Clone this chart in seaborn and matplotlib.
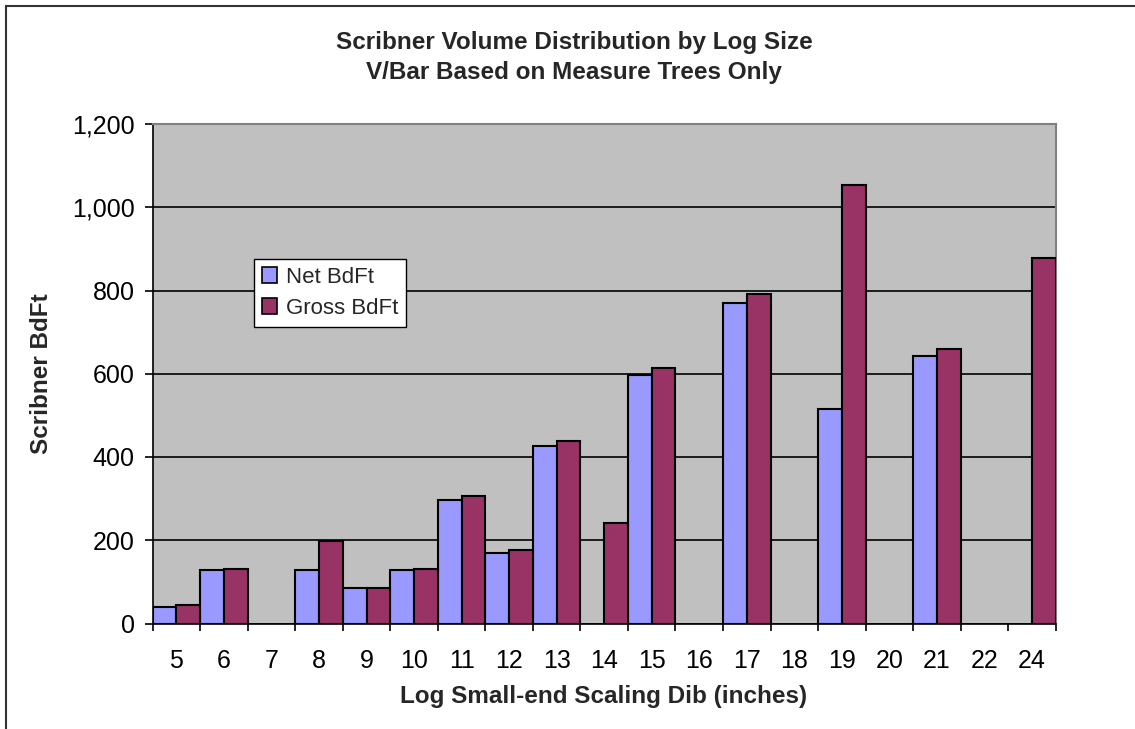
import numpy as np
import pandas as pd
import matplotlib
matplotlib.use("Agg")
import matplotlib.pyplot as plt
import seaborn as sns
from matplotlib.patches import Rectangle, Patch
from matplotlib.ticker import FixedLocator, FuncFormatter, NullFormatter

nan = np.nan

# Log small-end scaling diameter classes (inches)
dib_classes = ["5", "6", "7", "8", "9", "10", "11", "12", "13", "14",
               "15", "16", "17", "18", "19", "20", "21", "22", "24"]
net_bdft = [40, 128, nan, 128, 86, 128, 297, 170, 426, nan,
            597, nan, 771, nan, 515, nan, 642, nan, nan]
gross_bdft = [44, 131, nan, 198, 86, 131, 306, 176, 438, 242,
              615, nan, 792, nan, 1054, nan, 660, nan, 879]
series_names = ["Net BdFt", "Gross BdFt"]
series_colors = ["#9999FF", "#993366"]

df = pd.DataFrame({
    "Dib": dib_classes * 2,
    "BdFt": net_bdft + gross_bdft,
    "Series": [series_names[0]] * len(dib_classes) + [series_names[1]] * len(dib_classes),
})

sns.set_theme(style="white")
plt.rcParams["font.family"] = ["Liberation Sans", "DejaVu Sans"]

W, H = 1135, 729
fig = plt.figure(figsize=(W / 100, H / 100), dpi=100)
ax = fig.add_axes([152.7 / W, 1 - 623.5 / H, 903 / W, 499.5 / H])
ax.set_facecolor("#C0C0C0")

sns.barplot(data=df, x="Dib", y="BdFt", hue="Series", order=dib_classes,
            hue_order=series_names, palette=series_colors, width=1.0, gap=0,
            edgecolor="black", linewidth=1.5, saturation=1, errorbar=None,
            legend=False, ax=ax, zorder=3)

n = len(dib_classes)
ax.set_xlim(-0.5, n - 0.5)
ax.set_ylim(0, 1200)

# horizontal gridlines
ax.set_yticks(np.arange(0, 1201, 200))
ax.yaxis.set_major_formatter(FuncFormatter(lambda v, p: f"{int(v):,}"))
ax.grid(axis="y", color="black", linewidth=1.2, zorder=1)
ax.set_axisbelow(True)

# category labels centred, tick marks at category boundaries
ax.xaxis.set_major_locator(FixedLocator(np.arange(n)))
ax.xaxis.set_minor_locator(FixedLocator(np.arange(n + 1) - 0.5))
ax.xaxis.set_minor_formatter(NullFormatter())
ax.tick_params(axis="x", which="major", length=0, pad=18, labelsize=18, colors="black")
ax.tick_params(axis="x", which="minor", bottom=True, length=5, width=1.2, color="black")
ax.tick_params(axis="y", which="major", left=True, length=6, width=1.2, pad=7,
               labelsize=18, color="black", labelcolor="black")

for side in ["left", "bottom"]:
    ax.spines[side].set_color("black")
    ax.spines[side].set_linewidth(1.2)
for side in ["top", "right"]:
    ax.spines[side].set_color("#808080")
    ax.spines[side].set_linewidth(1.5)

ax.set_xlabel("")
ax.set_ylabel("")

fig.text(604 / W, 1 - 697 / H, "Log Small-end Scaling Dib (inches)", ha="center",
         va="center", fontsize=17.5, fontweight="bold")
fig.text(42 / W, 1 - 374 / H, "Scribner BdFt", ha="center", va="center",
         rotation=90, fontsize=17.5, fontweight="bold")
fig.text(574 / W, 1 - 42 / H, "Scribner Volume Distribution by Log Size", ha="center",
         va="center", fontsize=17.5, fontweight="bold")
fig.text(574 / W, 1 - 73 / H, "V/Bar Based on Measure Trees Only", ha="center",
         va="center", fontsize=17.5, fontweight="bold")

handles = [Patch(facecolor=c, edgecolor="black", linewidth=1.2) for c in series_colors]
leg = ax.legend(handles, series_names, loc="upper left",
                bbox_to_anchor=((254 - 152.7) / 903, (623.5 - 259) / 499.5),
                fontsize=16, frameon=True, fancybox=False, framealpha=1,
                edgecolor="black", borderpad=0.35, labelspacing=0.45,
                handlelength=0.7, handleheight=0.7, handletextpad=0.4,
                borderaxespad=0)
leg.get_frame().set_linewidth(1.0)

# chart area border
fig.patches.append(Rectangle((6 / W, -0.1), 1.2, 1.1 - 6 / H, transform=fig.transFigure,
                             fill=False, edgecolor="#333333", linewidth=1.5))

fig.savefig("out.png", dpi=100, facecolor="white")
